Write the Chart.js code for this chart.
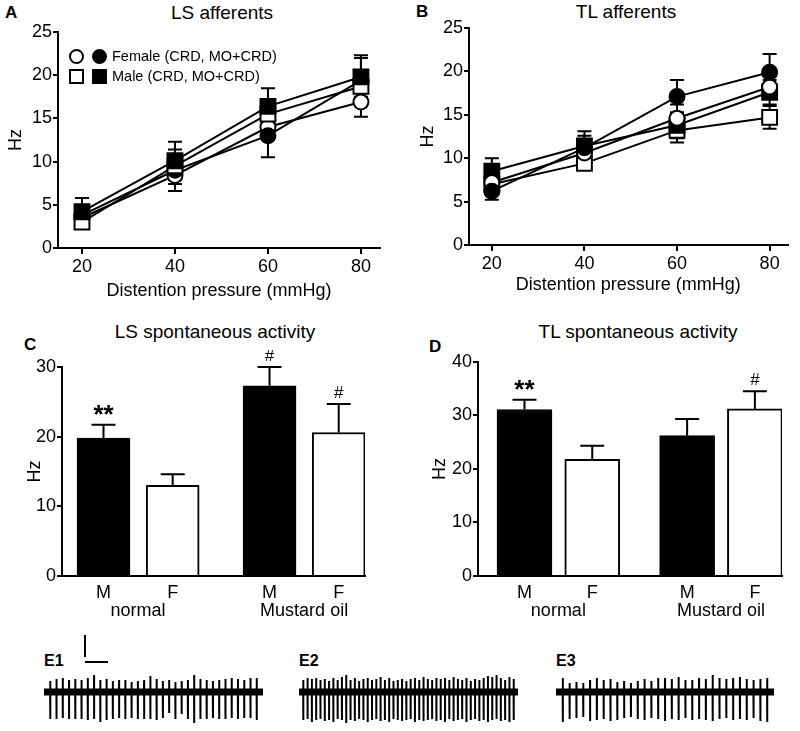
<!DOCTYPE html>
<html lang="en">
<head>
<meta charset="UTF-8">
<title>LS / TL afferents</title>
<script src="https://cdn.jsdelivr.net/npm/chart.js"></script>
<style>
  * { margin: 0; padding: 0; box-sizing: border-box; }
  body {
    width: 800px; height: 731px; position: relative; overflow: hidden;
    background: #fff; color: #000;
    font-family: "Liberation Sans", Arial, sans-serif;
  }
  canvas { position: absolute; }
  .title { position: absolute; font-size: 19px; line-height: 20px; white-space: nowrap; transform: translateX(-50%); }
  .tag { position: absolute; font-size: 17px; line-height: 18px; font-weight: bold; }
  .etag { position: absolute; font-size: 16px; line-height: 18px; font-weight: bold; }
  .legend { position: absolute; left: 69px; top: 46px; font-size: 14.5px; }
  .legend .row { display: flex; align-items: center; height: 20px; }
  .mk { display: inline-block; width: 15px; height: 15px; border: 2px solid #000; background: #fff; margin-right: 8px; }
  .mk.circ { border-radius: 50%; }
  .mk.fill { background: #000; margin-right: 5px; }
  .bar-v { position: absolute; left: 84px; top: 635px; width: 1.5px; height: 22px; background: #000; }
  .bar-h { position: absolute; left: 85px; top: 661px; width: 23px; height: 1.5px; background: #000; }
</style>
</head>
<body>
  <div class="tag" style="left:5px; top:4px;">A</div>
  <div class="title" style="left:222px; top:3px;">LS afferents</div>
  <div class="tag" style="left:416px; top:3px;">B</div>
  <div class="title" style="left:626px; top:2px;">TL afferents</div>
  <div class="tag" style="left:24px; top:336px;">C</div>
  <div class="title" style="left:215px; top:322px;">LS spontaneous activity</div>
  <div class="tag" style="left:429px; top:338px;">D</div>
  <div class="title" style="left:638px; top:322px;">TL spontaneous activity</div>

  <canvas id="chartA" width="400" height="302" style="left:0; top:0;"></canvas>
  <canvas id="chartB" width="400" height="296" style="left:400px; top:0;"></canvas>
  <canvas id="chartC" width="400" height="280" style="left:0; top:350px;"></canvas>
  <canvas id="chartD" width="400" height="280" style="left:400px; top:350px;"></canvas>

  <div class="legend">
    <div class="row"><span class="mk circ"></span><span class="mk circ fill"></span>Female (CRD, MO+CRD)</div>
    <div class="row"><span class="mk"></span><span class="mk fill"></span>Male (CRD, MO+CRD)</div>
  </div>

  <div class="etag" style="left:44px; top:652px;">E1</div>
  <div class="etag" style="left:299px; top:652px;">E2</div>
  <div class="etag" style="left:556px; top:652px;">E3</div>
  <div class="bar-v"></div>
  <div class="bar-h"></div>
  <canvas id="traceE1" width="219" height="57" style="left:44px; top:670px;"></canvas>
  <canvas id="traceE2" width="219" height="57" style="left:299px; top:670px;"></canvas>
  <canvas id="traceE3" width="218" height="57" style="left:556px; top:670px;"></canvas>

<script>
const pressure = [20, 40, 60, 80];

// A: LS afferents (Hz, mean and SEM)
const lsFemaleCrd = [3.5, 8.4, 14.0, 16.9];
const lsFemaleCrdErr = [0.8, 1.0, 1.2, 1.7];
const lsFemaleMo = [3.8, 9.0, 13.0, 19.4];
const lsFemaleMoErr = [1.0, 2.4, 2.5, 2.6];
const lsMaleCrd = [3.0, 9.5, 15.5, 18.7];
const lsMaleCrdErr = [0.6, 1.0, 1.0, 1.2];
const lsMaleMo = [4.2, 10.1, 16.4, 19.8];
const lsMaleMoErr = [1.6, 2.2, 2.1, 2.5];

// B: TL afferents
const tlFemaleCrd = [7.2, 10.6, 14.6, 18.2];
const tlFemaleCrdErr = [0.8, 1.0, 1.6, 1.2];
const tlFemaleMo = [6.2, 11.2, 17.1, 19.9];
const tlFemaleMoErr = [1.0, 1.9, 1.9, 2.1];
const tlMaleCrd = [7.0, 9.4, 13.2, 14.7];
const tlMaleCrdErr = [0.7, 0.6, 1.4, 1.3];
const tlMaleMo = [8.5, 11.4, 13.8, 17.6];
const tlMaleMoErr = [1.5, 1.2, 1.5, 1.4];

// C / D: spontaneous activity
const sexes = ['M', 'F', 'M', 'F'];
const treatments = ['normal', 'Mustard oil'];
const barPos = [1, 2, 3.4, 4.4];
const lsSpont = [19.8, 13.0, 27.3, 20.6];
const lsSpontErr = [1.9, 1.6, 2.7, 4.1];
const lsSig = ['**', '', '#', '#'];
const tlSpont = [31.1, 21.8, 26.2, 31.2];
const tlSpontErr = [1.8, 2.5, 3.1, 3.3];
const tlSig = ['**', '', '', '#'];

// E1-E3: spike amplitudes above / below baseline
const e1Up = [11, 13, 14, 12, 13, 12, 14, 17, 12, 13, 11, 12, 12, 10, 11, 12, 16, 13, 11, 12, 10, 11, 12, 17, 13, 12, 11, 12, 13, 14, 13, 12, 14, 14];
const e1Down = [27, 27, 26, 27, 27, 27, 28, 27, 30, 28, 27, 26, 27, 26, 27, 27, 27, 28, 26, 21, 27, 22, 27, 31, 27, 27, 26, 27, 27, 26, 27, 26, 26, 28];
const e2Up = [12, 14, 13, 14, 12, 13, 11, 14, 12, 15, 17, 12, 14, 11, 13, 14, 12, 13, 15, 12, 14, 11, 12, 13, 11, 13, 14, 12, 15, 13, 12, 14, 13, 14, 12, 15, 13, 12, 14, 11, 13, 12, 14, 16, 15, 17, 14, 12, 15, 13];
const e2Down = [28, 27, 30, 28, 27, 29, 28, 30, 27, 28, 31, 28, 29, 27, 28, 30, 28, 27, 29, 28, 30, 27, 28, 29, 28, 27, 30, 28, 29, 28, 27, 29, 28, 30, 27, 29, 28, 27, 30, 28, 27, 29, 28, 30, 28, 27, 29, 28, 30, 28];
const e3Up = [14, 9, 10, 9, 12, 14, 12, 13, 10, 11, 9, 11, 13, 11, 14, 14, 13, 15, 12, 12, 14, 13, 17, 14, 13, 14, 15, 13, 12, 13, 14];
const e3Down = [30, 27, 26, 25, 29, 28, 27, 29, 28, 26, 25, 27, 28, 26, 27, 29, 27, 28, 26, 28, 27, 28, 29, 27, 26, 28, 27, 28, 26, 29, 30];

Chart.defaults.animation = false;
Chart.defaults.font.family = '"Liberation Sans", Arial, sans-serif';
Chart.defaults.color = '#000';
Chart.defaults.plugins.legend.display = false;
Chart.defaults.plugins.tooltip.enabled = false;

// error bars behind the line markers
const lineErrors = {
  id: 'lineErrors',
  beforeDatasetsDraw(chart) {
    const ctx = chart.ctx, ys = chart.scales.y;
    ctx.save();
    ctx.strokeStyle = '#000';
    ctx.lineWidth = 2;
    chart.data.datasets.forEach((ds, i) => {
      chart.getDatasetMeta(i).data.forEach((pt, j) => {
        const v = ds.data[j].y, e = ds.errors[j];
        const top = ys.getPixelForValue(v + e), bot = ys.getPixelForValue(v - e);
        ctx.beginPath();
        ctx.moveTo(pt.x, top); ctx.lineTo(pt.x, bot);
        ctx.moveTo(pt.x - 7, top); ctx.lineTo(pt.x + 7, top);
        ctx.moveTo(pt.x - 7, bot); ctx.lineTo(pt.x + 7, bot);
        ctx.stroke();
      });
    });
    ctx.restore();
  }
};

// upward error bars, significance marks and group labels for the bar panels
const barExtras = {
  id: 'barExtras',
  afterDatasetsDraw(chart) {
    const ctx = chart.ctx, xs = chart.scales.x, ys = chart.scales.y;
    const ds = chart.data.datasets[0];
    ctx.save();
    ctx.strokeStyle = '#000';
    ctx.lineWidth = 2;
    ctx.fillStyle = '#000';
    ctx.textAlign = 'center';
    ctx.textBaseline = 'alphabetic';
    chart.getDatasetMeta(0).data.forEach((bar, j) => {
      const top = ys.getPixelForValue(ds.data[j].y + ds.errors[j]);
      ctx.beginPath();
      ctx.moveTo(bar.x, bar.y); ctx.lineTo(bar.x, top);
      ctx.moveTo(bar.x - 12, top); ctx.lineTo(bar.x + 12, top);
      ctx.stroke();
      const mark = ds.sig[j];
      if (mark === '**') {
        ctx.font = 'bold 26px "Liberation Sans", Arial, sans-serif';
        ctx.fillText(mark, bar.x, top - 2);
      } else if (mark) {
        ctx.font = '17px "Liberation Sans", Arial, sans-serif';
        ctx.fillText(mark, bar.x, top - 6);
      }
    });
    ctx.font = '18px "Liberation Sans", Arial, sans-serif';
    ctx.textBaseline = 'middle';
    treatments.forEach((t, k) => {
      const cx = (xs.getPixelForValue(barPos[2 * k]) + xs.getPixelForValue(barPos[2 * k + 1])) / 2;
      ctx.fillText(t, cx, ys.bottom + 35);
    });
    ctx.restore();
  }
};

function series(vals, errs, filled, style) {
  return {
    data: pressure.map((p, i) => ({ x: p, y: vals[i] })),
    errors: errs,
    borderColor: '#000',
    borderWidth: 2,
    pointStyle: style,
    pointRadius: style === 'rect' ? 10.5 : 7.5,
    pointBorderWidth: 2,
    pointBorderColor: '#000',
    pointBackgroundColor: filled ? '#000' : '#fff',
    clip: false
  };
}

function axisBase() {
  return {
    grid: { drawOnChartArea: false, color: '#000', lineWidth: 2, tickLength: 6 },
    border: { color: '#000', width: 2 },
    ticks: { color: '#000', font: { size: 18 } }
  };
}

function linePanel(id, sets, box) {
  const x = axisBase();
  Object.assign(x, {
    type: 'linear', min: box.xMin, max: box.xMax,
    afterBuildTicks: s => { s.ticks = pressure.map(v => ({ value: v })); },
    afterFit: s => { s.height = box.xHeight; },
    title: { display: true, text: 'Distention pressure (mmHg)', color: '#000', font: { size: 18 }, padding: { top: 0, bottom: 0 } }
  });
  x.ticks.padding = 2;
  const y = axisBase();
  Object.assign(y, {
    min: 0, max: 25,
    afterFit: s => { s.width = box.yWidth; },
    title: { display: true, text: 'Hz', color: '#000', font: { size: 18 }, padding: { top: box.hzPad, bottom: 0 } }
  });
  y.ticks.stepSize = 5;
  y.ticks.padding = 1;
  y.grid.tickLength = 5;
  new Chart(document.getElementById(id), {
    type: 'line',
    data: { datasets: sets },
    options: {
      responsive: false,
      layout: { padding: { left: 0, top: box.top, right: box.right, bottom: 0 } },
      scales: { x, y }
    },
    plugins: [lineErrors]
  });
}

linePanel('chartA', [
  series(lsMaleMo, lsMaleMoErr, true, 'rect'),
  series(lsMaleCrd, lsMaleCrdErr, false, 'rect'),
  series(lsFemaleMo, lsFemaleMoErr, true, 'circle'),
  series(lsFemaleCrd, lsFemaleCrdErr, false, 'circle')
], { xMin: 14.84, xMax: 84.1, xHeight: 54, yWidth: 58, top: 32, right: 20, hzPad: 5 });

linePanel('chartB', [
  series(tlFemaleMo, tlFemaleMoErr, true, 'circle'),
  series(tlFemaleCrd, tlFemaleCrdErr, false, 'circle'),
  series(tlMaleMo, tlMaleMoErr, true, 'rect'),
  series(tlMaleCrd, tlMaleCrdErr, false, 'rect')
], { xMin: 15.07, xMax: 83.86, xHeight: 51, yWidth: 69, top: 28, right: 10, hzPad: 17 });

function barPanel(id, vals, errs, sig, box) {
  const x = axisBase();
  Object.assign(x, {
    type: 'linear', min: box.xMin, max: box.xMax, offset: false,
    afterBuildTicks: s => { s.ticks = barPos.map(v => ({ value: v })); },
    afterFit: s => { s.height = 54; }
  });
  x.grid.drawTicks = false;
  x.ticks.padding = 6;
  x.ticks.callback = (v, i) => sexes[i];
  const y = axisBase();
  Object.assign(y, {
    min: 0, max: box.yMax,
    afterFit: s => { s.width = box.yWidth; },
    title: { display: true, text: 'Hz', color: '#000', font: { size: 18 }, padding: { top: box.hzPad, bottom: 0 } }
  });
  y.ticks.stepSize = 10;
  y.ticks.padding = 1;
  y.grid.tickLength = 5;
  new Chart(document.getElementById(id), {
    type: 'bar',
    data: {
      datasets: [{
        data: barPos.map((p, i) => ({ x: p, y: vals[i] })),
        errors: errs,
        sig: sig,
        backgroundColor: sexes.map(s => s === 'M' ? '#000' : '#fff'),
        borderColor: '#000',
        borderWidth: 2,
        barThickness: box.barW
      }]
    },
    options: {
      responsive: false,
      layout: { padding: { left: 0, top: box.top, right: box.right, bottom: 0 } },
      scales: { x, y }
    },
    plugins: [barExtras]
  });
}

barPanel('chartC', lsSpont, lsSpontErr, lsSig,
  { xMin: 0.4, xMax: 4.78, yMax: 30, yWidth: 62, top: 17, right: 35, hzPad: 24, barW: 53 });
barPanel('chartD', tlSpont, tlSpontErr, tlSig,
  { xMin: 0.314, xMax: 4.8, yMax: 40, yWidth: 78, top: 9, right: 18, hzPad: 29, barW: 55 });

function tracePoints(up, down) {
  const pts = [];
  up.forEach((u, i) => {
    const x = i + 1;
    pts.push({ x: x - 0.02, y: 0 }, { x: x, y: u }, { x: x, y: -down[i] }, { x: x + 0.02, y: 0 });
  });
  return pts;
}

function tracePanel(id, up, down) {
  new Chart(document.getElementById(id), {
    type: 'line',
    data: {
      datasets: [
        { data: tracePoints(up, down), borderColor: '#000', borderWidth: 2, pointRadius: 0, tension: 0 },
        { data: [{ x: 0, y: 0 }, { x: up.length + 1, y: 0 }], borderColor: '#000', borderWidth: 7, pointRadius: 0 }
      ]
    },
    options: {
      responsive: false,
      layout: { padding: 0 },
      scales: {
        x: { type: 'linear', display: false, min: 0, max: up.length + 1 },
        y: { display: false, min: -35, max: 22 }
      }
    }
  });
}

tracePanel('traceE1', e1Up, e1Down);
tracePanel('traceE2', e2Up, e2Down);
tracePanel('traceE3', e3Up, e3Down);
</script>
</body>
</html>
